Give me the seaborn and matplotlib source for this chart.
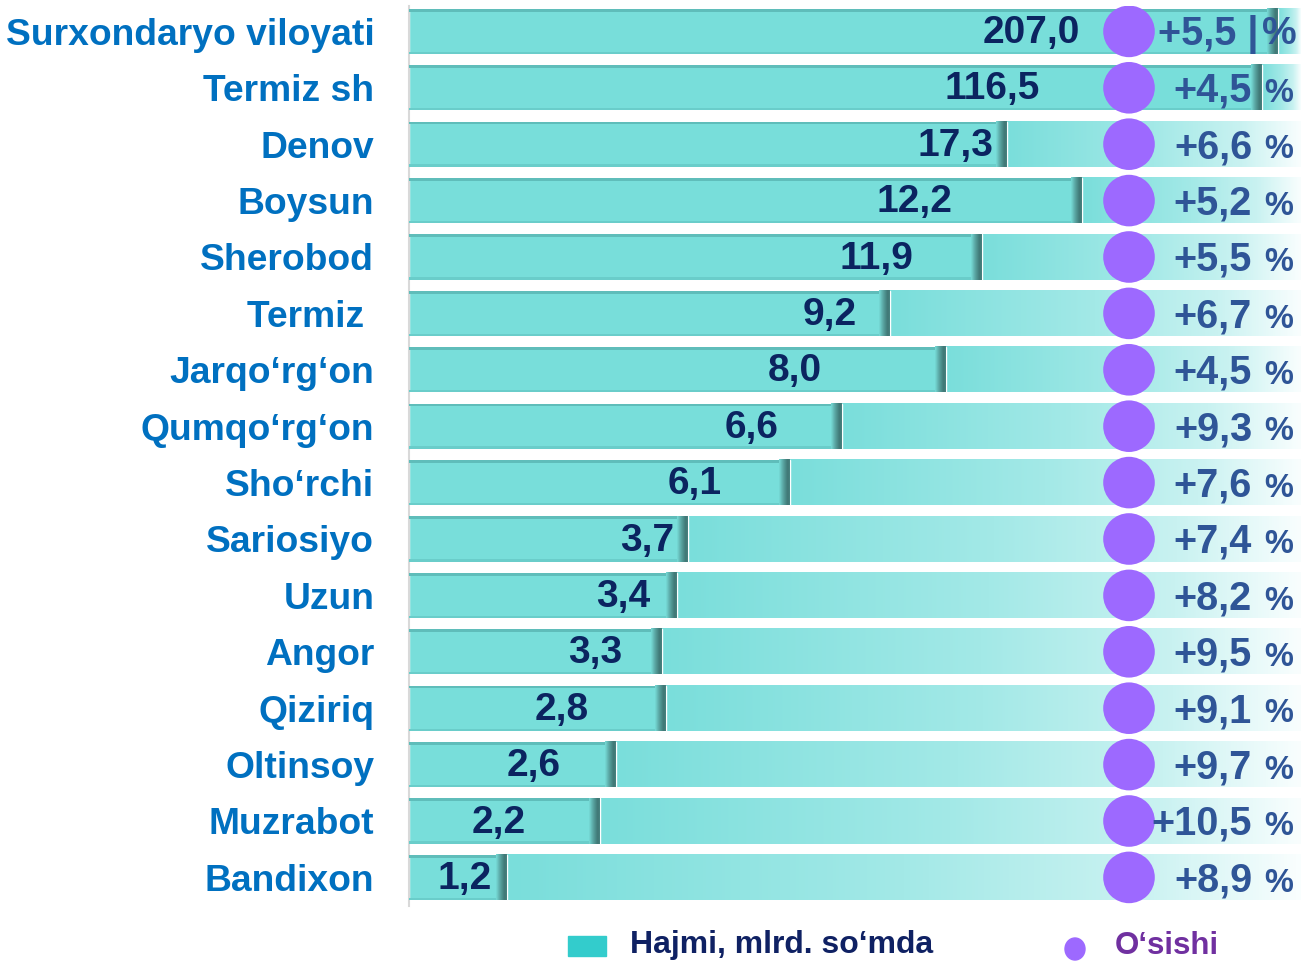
import numpy as np
import pandas as pd
import matplotlib.pyplot as plt
from matplotlib.colors import LinearSegmentedColormap
from matplotlib.patches import Rectangle, Ellipse
import seaborn as sns

sns.set_style('white')
plt.rcParams['font.family'] = ['Liberation Sans', 'DejaVu Sans']

# data
districts = ['Surxondaryo viloyati', 'Termiz sh', 'Denov', 'Boysun', 'Sherobod',
             'Termiz ', 'Jarqo‘rg‘on', 'Qumqo‘rg‘on', 'Sho‘rchi', 'Sariosiyo',
             'Uzun', 'Angor', 'Qiziriq', 'Oltinsoy', 'Muzrabot', 'Bandixon']
volume_labels = ['207,0', '116,5', '17,3', '12,2', '11,9', '9,2', '8,0', '6,6',
                 '6,1', '3,7', '3,4', '3,3', '2,8', '2,6', '2,2', '1,2']
# drawn bar lengths (the original bars are not to scale)
bar_len = [869, 853, 598, 673, 573, 481, 537, 433, 381, 279, 268, 253, 257,
           207, 191, 98]
growth = ['+5,5 |', '+4,5', '+6,6', '+5,2', '+5,5', '+6,7', '+4,5', '+9,3',
          '+7,6', '+7,4', '+8,2', '+9,5', '+9,1', '+9,7', '+10,5', '+8,9']

# layout
full_len = 892
label_x = [671, 631, 584, 543, 504, 448, 413, 369, 313, 265, 241, 213, 180,
           152, 117, 83]
dot_x = 720
bar_h = 0.8

df = pd.DataFrame({'district': districts, 'len': bar_len})

fig = plt.figure(figsize=(13.01, 9.63), dpi=100)
ax = fig.add_axes([409 / 1301, 1 - 905.6 / 963, 892 / 1301, 899.6 / 963])

bg_cmap = LinearSegmentedColormap.from_list(
    'bg', [(0, '#7ADEDB'), (0.5, '#A3E9E7'), (0.8, '#C9F2F1'), (1, '#F9FEFE')])
sh_cmap = LinearSegmentedColormap.from_list(
    'sh', [(0, '#78DEDA'), (0.35, '#5CA9A6'), (0.8, '#3E7573'), (1, '#4A8583')])
grad = np.linspace(0, 1, 256).reshape(1, -1)

sns.barplot(data=df, x='len', y='district', orient='h', color='#78DEDA',
            saturation=1, width=bar_h, ax=ax, zorder=2)

for i, L in enumerate(bar_len):
    ax.imshow(grad, extent=(L, full_len, i + bar_h / 2, i - bar_h / 2),
              aspect='auto', cmap=bg_cmap, zorder=1, interpolation='bicubic')
    ax.imshow(grad, extent=(L - 11, L, i + bar_h / 2, i - bar_h / 2),
              aspect='auto', cmap=sh_cmap, zorder=3, interpolation='bicubic')
    ax.add_patch(Rectangle((0, i - bar_h / 2), L - 11, 0.05, color='#5FBDBA',
                           zorder=3, lw=0))
    ax.add_patch(Rectangle((0, i + bar_h / 2 - 0.04), L - 11, 0.04,
                           color='#6ACDCA', zorder=3, lw=0))

sns.scatterplot(x=[dot_x] * len(districts), y=list(range(len(districts))),
                s=1380, color='#9D69FF', edgecolor='none', ax=ax, zorder=4,
                legend=False)

for i in range(len(districts)):
    ax.text(label_x[i], i + 0.03, volume_labels[i], ha='right', va='center',
            fontsize=28, fontweight='bold', color='#0B2460', zorder=5)
    first = growth[i].endswith('|')
    ax.text(849 if first else 843, i + 0.05, growth[i], ha='right',
            va='center', fontsize=28.5, fontweight='bold', color='#2F5597',
            zorder=5)
    ax.text(888 if first else 884, i + (0.05 if first else 0.1), '%',
            ha='right', va='center', fontsize=28 if first else 23.5,
            fontweight='bold', color='#2F5597', zorder=5)

ax.set_xlim(0, full_len)
ax.set_ylim(15.5, -0.45)
ax.set_xlabel('')
ax.set_ylabel('')
ax.set_xticks([])
ax.tick_params(axis='y', length=0, pad=25)
for lab in ax.get_yticklabels():
    lab.set_fontsize(26.8)
    lab.set_fontweight('bold')
    lab.set_color('#0070C0')
sns.despine(ax=ax, top=True, right=True, bottom=True, left=False)
ax.spines['left'].set_color('#D9D9D9')
ax.spines['left'].set_linewidth(1.5)

# legend
fig.patches.append(Rectangle((568 / 1301, 1 - 956 / 963), 38 / 1301, 20 / 963,
                             transform=fig.transFigure, color='#33CCCC'))
fig.text(630 / 1301, 1 - 945 / 963, 'Hajmi, mlrd. so‘mda', ha='left',
         va='center', fontsize=23, fontweight='bold', color='#0F2163')
fig.patches.append(Ellipse((1075 / 1301, 1 - 949 / 963), 20 / 1301, 22 / 963,
                           transform=fig.transFigure, color='#9D69FF'))
fig.text(1115 / 1301, 1 - 946 / 963, 'O‘sishi', ha='left', va='center',
         fontsize=22.5, fontweight='bold', color='#7030A0')

fig.savefig('out.png', dpi=100)
